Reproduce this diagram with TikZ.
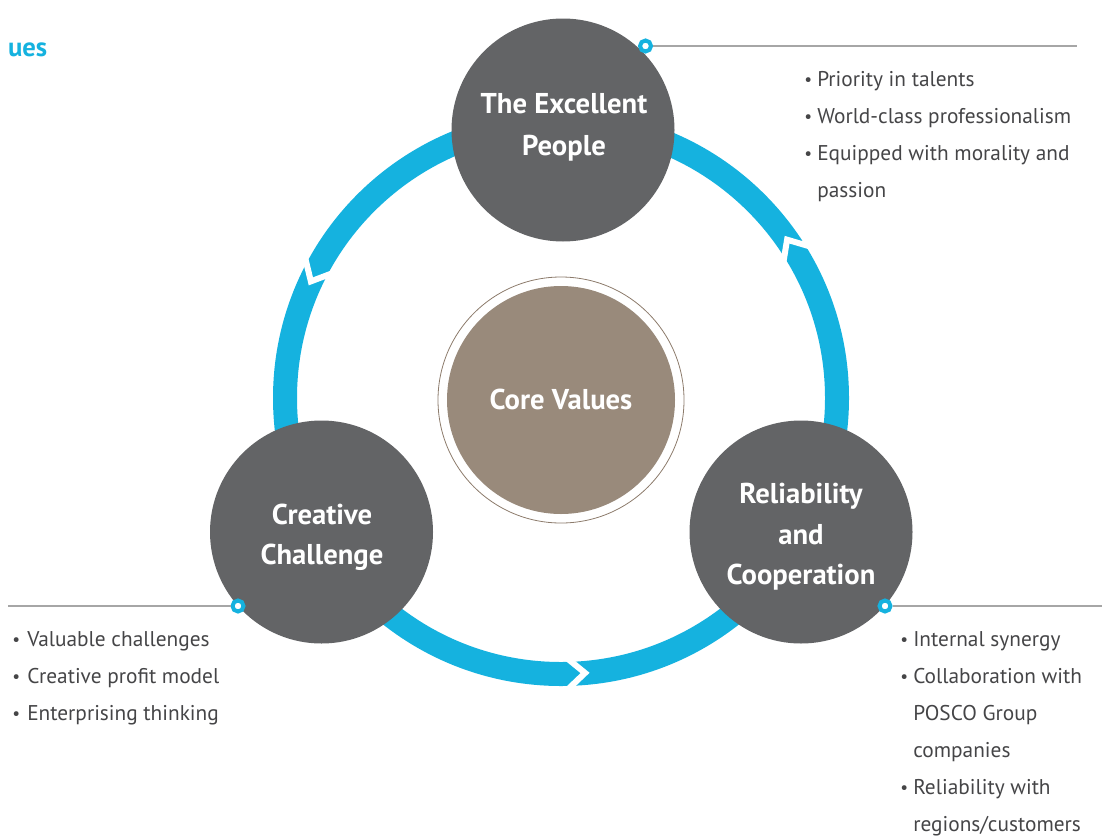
\documentclass[tikz,border=0pt]{standalone}
\usepackage{fontspec}
\setmainfont{PT Sans}
\usetikzlibrary{calc}
\definecolor{ringc}{HTML}{15B2DF}
\definecolor{darkc}{HTML}{636466}
\definecolor{corec}{HTML}{998A7B}
\definecolor{coreline}{HTML}{8C7B6B}
\definecolor{txtc}{HTML}{454547}
\definecolor{linec}{HTML}{A6A6A6}
\begin{document}
\begin{tikzpicture}[x=0.75pt,y=-0.75pt,
  bigc/.style={circle, fill=darkc, minimum size=167.25pt, inner sep=0pt},
  title/.style={anchor=base, text=white, font=\fontsize{21.5}{24}\selectfont\bfseries, inner sep=0pt},
  item/.style={anchor=base west, text=txtc, font=\fontsize{16}{19}\selectfont, inner sep=0pt},
  bul/.style={anchor=base west, text=txtc, font=\fontsize{13}{19}\selectfont, inner sep=0pt},
  marker/.style={circle, draw=ringc, line width=3pt, fill=white, minimum size=8.25pt, inner sep=0pt},
  leader/.style={draw=linec, line width=1.1pt},
  chev/.style={draw=white, line width=4.5pt, line join=miter, miter limit=20}
]
\useasboundingbox (0,0) rectangle (1102,839);
\coordinate (c) at (561,398);
% ring
\draw[ringc, line width=18pt] (c) circle[radius=276];
% chevron gaps
\draw[chev] ($(c)+(89:293)$) -- ($(c)+(85:276)$) -- ($(c)+(89:259)$);
\draw[chev] ($(c)+(-31:293)$) -- ($(c)+(-35:276)$) -- ($(c)+(-31:259)$);
\draw[chev] ($(c)+(-151:293)$) -- ($(c)+(-155:276)$) -- ($(c)+(-151:259)$);
% big circles
\node (ep) [bigc] at (563,130) {};
\node (cc) [bigc] at (321.5,532) {};
\node (rc) [bigc] at (801,532) {};
% core
\node (corering) [circle, draw=coreline, line width=0.6pt, minimum size=184.5pt, inner sep=0pt] at (561,400) {};
\node (core) [circle, fill=corec, minimum size=171pt, inner sep=0pt] at (561,400) {};
% titles
\node (t1a) [title] at (564,113) {The Excellent};
\node (t1b) [title] at (564,155) {People};
\node (t2a) [title] at (322,524) {Creative};
\node (t2b) [title] at (322,564) {Challenge};
\node (t3a) [title] at (801,503) {Reliability};
\node (t3b) [title] at (801,544) {and};
\node (t3c) [title] at (801,584) {Cooperation};
\node (t0) [title] at (561,409) {Core Values};
% heading fragment
\node (hd) [anchor=base east, text=ringc, font=\fontsize{20}{22}\selectfont\bfseries, inner sep=0pt] at (47.5,56) {ues};
% leaders and markers
\coordinate (e1) at (1077,46);
\coordinate (e2) at (8,606);
\coordinate (e3) at (1102,606);
\node (m1) [marker] at (645.5,46) {};
\node (m2) [marker] at (238,606) {};
\node (m3) [marker] at (885,606) {};
\draw[leader] (m1.east) -- (e1);
\draw[leader] (m2.west) -- (e2);
\draw[leader] (m3.east) -- (e3);
% top list
\node (b11) [bul] at (804,85) {•};
\node (l11) [item] at (817,86) {Priority in talents};
\node (b12) [bul] at (804,122) {•};
\node (l12) [item] at (817,123) {World-class professionalism};
\node (b13) [bul] at (804,159) {•};
\node (l13) [item] at (817,160) {Equipped with morality and};
\node (l14) [item] at (817,197) {passion};
% left list
\node (b21) [bul] at (12,645) {•};
\node (l21) [item] at (27,646) {Valuable challenges};
\node (b22) [bul] at (12,682) {•};
\node (l22) [item] at (27,683) {Creative profit model};
\node (b23) [bul] at (12,719) {•};
\node (l23) [item] at (27,720) {Enterprising thinking};
% right list
\node (b31) [bul] at (900,645) {•};
\node (l31) [item] at (913,646) {Internal synergy};
\node (b32) [bul] at (900,682) {•};
\node (l32) [item] at (913,683) {Collaboration with};
\node (l33) [item] at (913,720) {POSCO Group};
\node (l34) [item] at (913,757) {companies};
\node (b35) [bul] at (900,793) {•};
\node (l35) [item] at (913,794) {Reliability with};
\node (l36) [item] at (913,831) {regions/customers};
\end{tikzpicture}
\end{document}
